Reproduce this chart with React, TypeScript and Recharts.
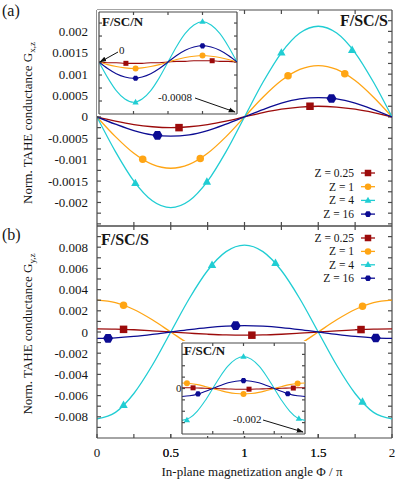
import { ComposedChart, Line, ReferenceLine, Scatter, XAxis, YAxis } from "recharts";

// in-plane angle grid, units of pi
const PHI = [0, 0.125, 0.25, 0.375, 0.5, 0.625, 0.75, 0.875, 1, 1.125, 1.25, 1.375, 1.5, 1.625, 1.75, 1.875, 2];

// (a) main panel, F/SC/S, G_x,z
const GX_RED = [0, -0.0001, -0.00018, -0.00023, -0.00025, -0.00023, -0.00018, -0.0001, 0, 0.0001, 0.00018, 0.00023, 0.00025, 0.00023, 0.00018, 0.0001, 0];
const GX_ORANGE = [0, -0.00046, -0.00085, -0.00111, -0.0012, -0.00111, -0.00085, -0.00046, 0, 0.00046, 0.00085, 0.00111, 0.0012, 0.00111, 0.00085, 0.00046, 0];
const GX_CYAN = [0, -0.00081, -0.0015, -0.00196, -0.00212, -0.00196, -0.0015, -0.00081, 0, 0.00081, 0.0015, 0.00196, 0.00212, 0.00196, 0.0015, 0.00081, 0];
const GX_BLUE = [0, -0.00017, -0.00032, -0.00042, -0.00045, -0.00042, -0.00032, -0.00017, 0, 0.00017, 0.00032, 0.00042, 0.00045, 0.00042, 0.00032, 0.00017, 0];

// (a) inset, F/SC/N
const GXN_RED = [0, -0.00001, -0.00001, -0.00002, -0.00002, -0.00002, -0.00001, -0.00001, 0, 0.00001, 0.00001, 0.00002, 0.00002, 0.00002, 0.00001, 0.00001, 0];
const GXN_ORANGE = [0, -0.00004, -0.00007, -0.00009, -0.0001, -0.00009, -0.00007, -0.00004, 0, 0.00004, 0.00007, 0.00009, 0.0001, 0.00009, 0.00007, 0.00004, 0];
const GXN_CYAN = [0, -0.00024, -0.00044, -0.00057, -0.00062, -0.00057, -0.00044, -0.00024, 0, 0.00024, 0.00044, 0.00057, 0.00062, 0.00057, 0.00044, 0.00024, 0];
const GXN_BLUE = [0, -0.0001, -0.00018, -0.00023, -0.00025, -0.00023, -0.00018, -0.0001, 0, 0.0001, 0.00018, 0.00023, 0.00025, 0.00023, 0.00018, 0.0001, 0];

// (b) main panel, F/SC/S, G_y,z
const GY_RED = [0.0003, 0.00028, 0.00021, 0.00011, 0, -0.00011, -0.00021, -0.00028, -0.0003, -0.00028, -0.00021, -0.00011, 0, 0.00011, 0.00021, 0.00028, 0.0003];
const GY_ORANGE = [0.003, 0.00277, 0.00212, 0.00115, 0, -0.00115, -0.00212, -0.00277, -0.003, -0.00277, -0.00212, -0.00115, 0, 0.00115, 0.00212, 0.00277, 0.003];
const GY_CYAN = [-0.0082, -0.00758, -0.0058, -0.00314, 0, 0.00314, 0.0058, 0.00758, 0.0082, 0.00758, 0.0058, 0.00314, 0, -0.00314, -0.0058, -0.00758, -0.0082];
const GY_BLUE = [-0.0006, -0.00055, -0.00042, -0.00023, 0, 0.00023, 0.00042, 0.00055, 0.0006, 0.00055, 0.00042, 0.00023, 0, -0.00023, -0.00042, -0.00055, -0.0006];

// (b) inset, F/SC/N
const GYN_RED = [0.00003, 0.00003, 0.00002, 0.00001, 0, -0.00001, -0.00002, -0.00003, -0.00003, -0.00003, -0.00002, -0.00001, 0, 0.00001, 0.00002, 0.00003, 0.00003];
const GYN_ORANGE = [0.00024, 0.00022, 0.00017, 0.00009, 0, -0.00009, -0.00017, -0.00022, -0.00024, -0.00022, -0.00017, -0.00009, 0, 0.00009, 0.00017, 0.00022, 0.00024];
const GYN_CYAN = [-0.0014, -0.00129, -0.00099, -0.00054, 0, 0.00054, 0.00099, 0.00129, 0.0014, 0.00129, 0.00099, 0.00054, 0, -0.00054, -0.00099, -0.00129, -0.0014];
const GYN_BLUE = [-0.00035, -0.00032, -0.00025, -0.00013, 0, 0.00013, 0.00025, 0.00032, 0.00035, 0.00032, 0.00025, 0.00013, 0, -0.00013, -0.00025, -0.00032, -0.00035];

// symbol positions [phi, G]
const GX_MARKS = {
  red: [[0.556, -0.00025], [1.444, 0.00025]],
  orange: [[0.31, -0.00099], [0.7, -0.00097], [1.295, 0.00096], [1.68, 0.00101]],
  cyan: [[0.26, -0.00155], [0.745, -0.00152], [1.25, 0.0015], [1.73, 0.00156]],
  blue: [[0.41, -0.00043], [1.59, 0.00043]]
};
const GXN_MARKS = {
  red: [[0.39, -0.00002], [1.64, 0.00002]],
  orange: [[0.53, -0.0001], [1.5, 0.0001]],
  cyan: [[0.53, -0.00062], [1.5, 0.00062]],
  blue: [[0.53, -0.00025], [1.5, 0.00025]]
};
const GY_MARKS = {
  red: [[0.18, 0.00025], [1.05, -0.0003], [1.79, 0.00023]],
  orange: [[0.18, 0.00252], [1.8, 0.00243]],
  cyan: [[0.18, -0.0069], [0.78, 0.0063], [1.21, 0.0065], [1.8, -0.0066]],
  blue: [[0.075, -0.0006], [0.94, 0.0006], [1.89, -0.00057]]
};
const GYN_MARKS = {
  red: [[0.18, 0.00003], [1.09, -0.00003], [1.81, 0.00002]],
  orange: [[0.08, 0.00023], [1, -0.00024], [1.88, 0.00022]],
  cyan: [[0.08, -0.00139], [1, 0.0014], [1.9, -0.00133]],
  blue: [[0.26, -0.00024], [1, 0.00035], [1.72, -0.00023]]
};

const X_TICKS = [0.25, 0.5, 0.75, 1, 1.25, 1.5, 1.75];
const X_LABELS = [0, 0.5, 1, 1.5, 2];
const X_TICKS_INSET = [0.5, 1, 1.5];
const GX_TICKS = [-0.0025, -0.00225, -0.002, -0.00175, -0.0015, -0.00125, -0.001, -0.00075, -0.0005, -0.00025, 0, 0.00025, 0.0005, 0.00075, 0.001, 0.00125, 0.0015, 0.00175, 0.002, 0.00225];
const GX_LABELS = [-0.002, -0.0015, -0.001, -0.0005, 0, 0.0005, 0.001, 0.0015, 0.002];
const GY_TICKS = [-0.009, -0.008, -0.007, -0.006, -0.005, -0.004, -0.003, -0.002, -0.001, 0, 0.001, 0.002, 0.003, 0.004, 0.005, 0.006, 0.007, 0.008, 0.009];
const GY_LABELS = [-0.008, -0.006, -0.004, -0.002, 0, 0.002, 0.004, 0.006, 0.008];
const GXN_TICKS = [-0.0006, -0.0004, -0.0002, 0, 0.0002, 0.0004, 0.0006];
const GYN_TICKS = [-0.0015, -0.001, -0.0005, 0, 0.0005, 0.001, 0.0015];

const Z_NAMES = ["Z = 0.25", "Z = 1", "Z = 4", "Z = 16"];

type Key = "red" | "orange" | "cyan" | "blue";
const KEYS: Key[] = ["red", "orange", "cyan", "blue"];
const COLORS: Record<Key, string> = { red: "#9c0b0b", orange: "#ffa514", cyan: "#20cdd3", blue: "#0c0c92" };
const SHAPES: Record<Key, string> = { red: "square", orange: "circle", cyan: "triangle", blue: "hexagon" };

const SERIF = "Liberation Serif, DejaVu Serif, serif";
const INK = "#151515";
const FRAME = "#4a4a4a";

const rowsOf = (s: Record<Key, number[]>) =>
  PHI.map((phi, i) => ({ phi, red: s.red[i], orange: s.orange[i], cyan: s.cyan[i], blue: s.blue[i] }));
const ptsOf = (m: number[][]) => m.map(([phi, g]) => ({ phi, g }));

const Marker = ({ cx, cy, shape, size, color }: any) => {
  if (cx == null || cy == null) return null;
  const r = size / 2;
  if (shape === "square") return <rect x={cx - r} y={cy - r} width={size} height={size} fill={color} />;
  if (shape === "circle") return <circle cx={cx} cy={cy} r={r} fill={color} />;
  if (shape === "triangle")
    return <polygon fill={color} points={`${cx},${cy - r * 1.15} ${cx + r * 1.05},${cy + r * 0.7} ${cx - r * 1.05},${cy + r * 0.7}`} />;
  const pts = [0, 60, 120, 180, 240, 300]
    .map((a) => `${cx + r * Math.cos((a * Math.PI) / 180)},${cy + r * Math.sin((a * Math.PI) / 180)}`)
    .join(" ");
  return <polygon fill={color} points={pts} />;
};

// only labelled ticks get text, the rest are bare tick marks
const tickText = (labels: number[], anchor: string, dy: string) => (p: any) => {
  const v = p?.payload?.value;
  if (!labels.includes(v)) return <g />;
  return (
    <text x={p.x} y={p.y} dy={dy} textAnchor={anchor} fontSize={13} fontFamily={SERIF} fill={INK}>
      {String(v)}
    </text>
  );
};

// margin is the plot box; left and bottom axes sit just outside it,
// top and right edges of the frame are reference lines with inward ticks
const Plot = ({ w, h, margin, yDomain, yTicks, yLabels, xTicks, xLabels, xAxisHeight, tick, series, marks, sizes, lineWidth }: any) => {
  const yTop = yDomain[1];
  const plotW = w - margin.left - margin.right;
  const plotH = h - margin.top - margin.bottom;
  const dy = ((yDomain[1] - yDomain[0]) * tick) / plotH;
  const dx = (2 * tick) / plotW;
  return (
    <ComposedChart
      width={w}
      height={h}
      margin={{ top: margin.top, right: margin.right, bottom: margin.bottom - xAxisHeight, left: margin.left - 1 }}
      data={rowsOf(series)}
    >
      <XAxis
        dataKey="phi"
        type="number"
        domain={[0, 2]}
        ticks={xLabels.length ? [...X_LABELS, ...xTicks].sort((a, b) => a - b) : xTicks}
        interval={0}
        allowDataOverflow
        height={xAxisHeight}
        tickSize={-tick}
        tickMargin={14}
        stroke={FRAME}
        strokeWidth={1.2}
        tick={tickText(xLabels, "middle", "0.71em")}
      />
      <YAxis
        type="number"
        domain={yDomain}
        ticks={yTicks}
        interval={0}
        allowDataOverflow
        width={1}
        tickSize={-tick}
        tickMargin={13}
        stroke={FRAME}
        strokeWidth={1.2}
        tick={tickText(yLabels, "end", "0.35em")}
      />
      <ReferenceLine y={yTop} stroke={FRAME} strokeWidth={1.2} ifOverflow="visible" />
      <ReferenceLine x={2} stroke={FRAME} strokeWidth={1.2} ifOverflow="visible" />
      {xTicks.map((t: number) => (
        <ReferenceLine
          key={`tt-${t}`}
          segment={[{ x: t, y: yTop }, { x: t, y: yTop - dy }]}
          stroke={FRAME}
          strokeWidth={1.2}
          ifOverflow="visible"
        />
      ))}
      {yTicks.map((t: number) => (
        <ReferenceLine
          key={`rt-${t}`}
          segment={[{ x: 2, y: t }, { x: 2 - dx, y: t }]}
          stroke={FRAME}
          strokeWidth={1.2}
          ifOverflow="visible"
        />
      ))}
      {KEYS.map((k) => (
        <Line
          key={k}
          dataKey={k}
          type="monotone"
          stroke={COLORS[k]}
          strokeWidth={lineWidth}
          dot={false}
          activeDot={false}
          isAnimationActive={false}
        />
      ))}
      {KEYS.map((k) => (
        <Scatter
          key={`m-${k}`}
          data={ptsOf(marks[k])}
          dataKey="g"
          isAnimationActive={false}
          shape={(p: any) => <Marker cx={p.cx} cy={p.cy} shape={SHAPES[k]} size={sizes[k]} color={COLORS[k]} />}
        />
      ))}
    </ComposedChart>
  );
};

const ZLegend = ({ top, step }: { top: number; step: number }) => (
  <g>
    {KEYS.map((k, i) => {
      const y = top + i * step;
      return (
        <g key={k}>
          <text x={354} y={y + 4} textAnchor="end" fontSize={11.5} fontFamily={SERIF} fill={INK}>
            {Z_NAMES[i]}
          </text>
          <line x1={361} x2={375} y1={y} y2={y} stroke={COLORS[k]} strokeWidth={1.3} />
          <Marker cx={368} cy={y} shape={SHAPES[k]} size={6.5} color={COLORS[k]} />
        </g>
      );
    })}
  </g>
);

const MAIN_SIZES = { red: 7.5, orange: 7.5, cyan: 8, blue: 10 };
const INSET_SIZES = { red: 5, orange: 6, cyan: 6, blue: 6 };

export default function App() {
  return (
    <div style={{ position: "relative", width: 395, height: 480, background: "#fff", fontFamily: SERIF }}>
      <style>{"body{margin:0}"}</style>
      <div style={{ position: "absolute", left: 0, top: 0 }}>
        <Plot
          w={395}
          h={240}
          margin={{ top: 10, right: 3, bottom: 14, left: 97 }}
          yDomain={[-0.00255, 0.0025]}
          yTicks={GX_TICKS}
          yLabels={GX_LABELS}
          xTicks={X_TICKS}
          xLabels={[]}
          xAxisHeight={1}
          tick={4}
          series={{ red: GX_RED, orange: GX_ORANGE, cyan: GX_CYAN, blue: GX_BLUE }}
          marks={GX_MARKS}
          sizes={MAIN_SIZES}
          lineWidth={1.3}
        />
      </div>
      <div style={{ position: "absolute", left: 0, top: 224 }}>
        <Plot
          w={395}
          h={256}
          margin={{ top: 2, right: 3, bottom: 42, left: 97 }}
          yDomain={[-0.01, 0.01]}
          yTicks={GY_TICKS}
          yLabels={GY_LABELS}
          xTicks={X_TICKS}
          xLabels={X_LABELS}
          xAxisHeight={42}
          tick={4}
          series={{ red: GY_RED, orange: GY_ORANGE, cyan: GY_CYAN, blue: GY_BLUE }}
          marks={GY_MARKS}
          sizes={MAIN_SIZES}
          lineWidth={1.3}
        />
      </div>
      <div style={{ position: "absolute", left: 97, top: 10, background: "#fff" }}>
        <Plot
          w={142}
          h={106}
          margin={{ top: 2, right: 2, bottom: 2, left: 2 }}
          yDomain={[-0.0008, 0.00077]}
          yTicks={GXN_TICKS}
          yLabels={[]}
          xTicks={X_TICKS_INSET}
          xLabels={[]}
          xAxisHeight={1}
          tick={3}
          series={{ red: GXN_RED, orange: GXN_ORANGE, cyan: GXN_CYAN, blue: GXN_BLUE }}
          marks={GXN_MARKS}
          sizes={INSET_SIZES}
          lineWidth={1.1}
        />
      </div>
      <div style={{ position: "absolute", left: 180, top: 341, background: "#fff" }}>
        <Plot
          w={127}
          h={95}
          margin={{ top: 2, right: 2, bottom: 2, left: 2 }}
          yDomain={[-0.002, 0.002]}
          yTicks={GYN_TICKS}
          yLabels={[]}
          xTicks={X_TICKS_INSET}
          xLabels={[]}
          xAxisHeight={1}
          tick={3}
          series={{ red: GYN_RED, orange: GYN_ORANGE, cyan: GYN_CYAN, blue: GYN_BLUE }}
          marks={GYN_MARKS}
          sizes={INSET_SIZES}
          lineWidth={1.1}
        />
      </div>
      <svg width={395} height={480} style={{ position: "absolute", left: 0, top: 0, pointerEvents: "none" }}>
        <defs>
          <marker id="arrow" viewBox="0 0 10 10" refX="9" refY="5" markerWidth="7" markerHeight="7" orient="auto">
            <path d="M0,1.5 L10,5 L0,8.5 z" fill="#111" />
          </marker>
        </defs>
        <text x={2} y={16} fontSize={16} fontFamily={SERIF} fill={INK}>(a)</text>
        <text x={2} y={240} fontSize={16} fontFamily={SERIF} fill={INK}>(b)</text>
        <text transform="translate(32,123) rotate(-90)" textAnchor="middle" fontSize={13} fontFamily={SERIF} fill={INK}>
          Norm. TAHE conductance G<tspan fontSize={9} dy={3}>x,z</tspan>
        </text>
        <text transform="translate(32,334) rotate(-90)" textAnchor="middle" fontSize={13} fontFamily={SERIF} fill={INK}>
          Norm. TAHE conductance G<tspan fontSize={9} dy={3}>y,z</tspan>
        </text>
        <text x={252} y={476} textAnchor="middle" fontSize={13} fontFamily={SERIF} fill={INK}>
          In-plane magnetization angle Φ / π
        </text>
        <text x={388} y={26} textAnchor="end" fontSize={16} fontWeight="bold" fontFamily={SERIF} fill={INK}>F/SC/S</text>
        <text x={101} y={245} fontSize={16} fontWeight="bold" fontFamily={SERIF} fill={INK}>F/SC/S</text>
        <text x={102} y={26} fontSize={13} fontWeight="bold" fontFamily={SERIF} fill={INK}>F/SC/N</text>
        <text x={184} y={355} fontSize={13} fontWeight="bold" fontFamily={SERIF} fill={INK}>F/SC/N</text>
        <text x={119} y={54} fontSize={11} fontFamily={SERIF} fill={INK}>0</text>
        <line x1={118} y1={52} x2={100} y2={62} stroke="#111" strokeWidth={1} markerEnd="url(#arrow)" />
        <text x={158} y={101} fontSize={11} fontFamily={SERIF} fill={INK}>-0.0008</text>
        <line x1={195} y1={98} x2={235} y2={112} stroke="#111" strokeWidth={1} markerEnd="url(#arrow)" />
        <text x={176} y={392} fontSize={11} fontFamily={SERIF} fill={INK}>0</text>
        <text x={233} y={423} fontSize={11} fontFamily={SERIF} fill={INK}>-0.002</text>
        <line x1={263} y1={420} x2={303} y2={432} stroke="#111" strokeWidth={1} markerEnd="url(#arrow)" />
        <ZLegend top={173} step={13.7} />
        <ZLegend top={238} step={13.4} />
      </svg>
    </div>
  );
}
